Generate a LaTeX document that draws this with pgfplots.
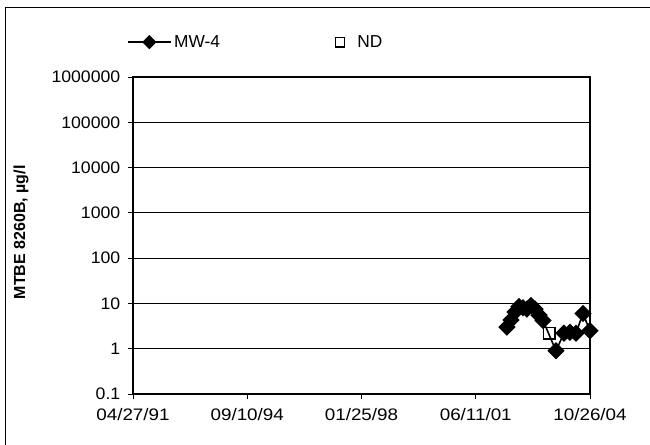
\documentclass[border=0pt]{standalone}
\usepackage{pgfplots}
\pgfplotsset{compat=1.18}
\usepackage{fontspec}
\setmainfont{Liberation Sans}
\newcommand{\XL}[1]{\scalebox{1.13}[1]{#1}}
\newcommand{\YL}[1]{\scalebox{1.06}[1]{#1}}
\begin{document}
\begin{tikzpicture}[x=1pt,y=1pt]
\useasboundingbox (0,0) rectangle (487.5,333.75);
\draw[line width=0.6pt] (3.75,-10) -- (3.75,328.5) -- (500,328.5);
\begin{axis}[
  at={(99.75pt,38.25pt)}, anchor=south west,
  scale only axis, width=342.75pt, height=237.75pt,
  ymode=log, ymin=0.1, ymax=1000000,
  xmin=0, xmax=4931,
  xtick={0,1232.75,2465.5,3698.25,4931},
  xticklabels={\XL{04/27/91},\XL{09/10/94},\XL{01/25/98},\XL{06/11/01},\XL{10/26/04}},
  ytick={0.1,1,10,100,1000,10000,100000,1000000},
  yticklabels={\YL{0.1},\YL{1},\YL{10},\YL{100},\YL{1000},\YL{10000},\YL{100000},\YL{1000000}},
  minor tick num=0,
  yminorticks=false,
  tick align=outside,
  xtick pos=bottom, ytick pos=left,
  major tick length=4pt,
  tick style={black, line width=0.6pt},
  axis line style={black, line width=0.8pt},
  ymajorgrids,
  grid style={black, line width=0.6pt},
  ticklabel style={font=\fontsize{12.5}{14}\selectfont},
  yticklabel style={xshift=-2pt},
  xticklabel style={yshift=-3pt},
  /pgf/number format/assume math mode=true,
  ylabel={\textbf{MTBE 8260B, µg/l}},
  ylabel style={at={(axis description cs:-0.245,0.51)}, anchor=center, font=\fontsize{12}{14}\selectfont},
  legend style={at={(-0.022,1.11)}, anchor=west, draw=none, fill=none,
    font=\fontsize{13}{15}\selectfont,
    /tikz/every even column/.append style={column sep=83pt}},
  legend columns=2,
  clip=false,
]
\addplot[black, line width=1.2pt, mark=square*, mark size=4pt,
  mark options={rotate=45, solid, fill=black},
  legend image code/.code={\draw[mark repeat=2,mark phase=2,mark size=3.2pt] plot coordinates {(0pt,0pt)(16pt,0pt)(32pt,0pt)};}]
coordinates {
(4035,3.0)
(4079,4.3)
(4122,6.5)
(4165,8.5)
(4208,8.0)
(4251,7.5)
(4294,9.0)
(4338,7.5)
(4381,5.5)
(4424,4.2)
(4564,0.9)
(4650,2.2)
(4715,2.3)
(4780,2.2)
(4855,6.0)
(4930,2.5)
};
\addlegendentry{MW-4}
\addplot[only marks, black, line width=1.3pt, mark=square, mark size=4.2pt, mark options={fill=white},
  legend image code/.code={\path[draw=none] (-5pt,0pt) -- (11pt,0pt); \draw[mark size=3.4pt] plot coordinates {(0pt,0pt)};}]
coordinates {
(4489,2.2)
};
\addlegendentry{ND}
\end{axis}
\end{tikzpicture}
\end{document}
